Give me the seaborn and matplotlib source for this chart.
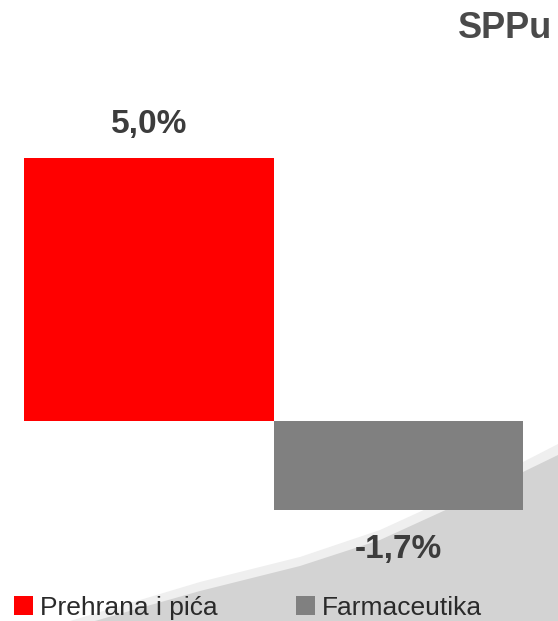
import matplotlib
matplotlib.use("Agg")
import matplotlib.pyplot as plt
import numpy as np
import pandas as pd
import seaborn as sns
from matplotlib.patches import Polygon, Patch

# Chart data
categories = ["Prehrana i pića", "Farmaceutika"]
values = [5.0, -1.7]
value_labels = ["5,0%", "-1,7%"]
colors = ["#ff0000", "#808080"]
title = "SPPu"

sns.set_style("white")
plt.rcParams["font.family"] = ["Liberation Sans", "DejaVu Sans"]

W, H = 558, 621
fig = plt.figure(figsize=(W / 100, H / 100), dpi=100)
fig.patch.set_facecolor("white")

# Decorative grey swoosh in the lower right corner (figure pixel coords)
def px(x, y):
    return (x / W, 1 - y / H)

band = [(70, 621), (130, 603), (200, 582), (300, 557), (380, 530), (450, 498), (523, 462), (558, 444), (558, 621)]
swoosh = [(95, 621), (133, 610), (200, 591), (300, 566), (380, 540), (450, 508), (523, 472), (558, 455), (558, 621)]
fig.patches.append(Polygon([px(*p) for p in band], closed=True, transform=fig.transFigure,
                           facecolor="#efefef", edgecolor="none", zorder=-2))
fig.patches.append(Polygon([px(*p) for p in swoosh], closed=True, transform=fig.transFigure,
                           facecolor="#d3d3d3", edgecolor="none", zorder=-1))

# Axes placed so bars span x=24..523 and zero line at y=421
ppu = 263 / 5.0
ymin, ymax = -2.5, 6.0
bottom_px = 421 + (-ymin) * ppu
ax = fig.add_axes([24 / W, (H - bottom_px) / H, 499 / W, (ymax - ymin) * ppu / H])
ax.patch.set_alpha(0)

df = pd.DataFrame({"category": categories, "value": values})
sns.barplot(data=df, x="category", y="value", hue="category", palette=colors,
            width=1.0, saturation=1, legend=False, linewidth=0, ax=ax)
ax.set_xlim(-0.5, 1.5)
ax.set_ylim(ymin, ymax)
ax.axis("off")

for i, (v, lab) in enumerate(zip(values, value_labels)):
    offset = 13 if v >= 0 else -17
    ax.annotate(lab, (i, v), xytext=(0, offset), textcoords="offset points",
                ha="center", va="bottom" if v >= 0 else "top",
                fontsize=24, fontweight="bold", color="#3c3c3c", annotation_clip=False)

fig.text(552 / W, 1 - 29 / H, title, ha="right", va="center",
         fontsize=26, fontweight="bold", color="#4a4a4a")

handles = [Patch(facecolor=c, edgecolor="none") for c in colors]
fig.legend(handles, categories, loc="center left", bbox_to_anchor=(14 / W, 1 - 608 / H),
           ncol=2, frameon=False, fontsize=19, handlelength=0.72, handleheight=0.72,
           handletextpad=0.25, columnspacing=3.0, borderpad=0, borderaxespad=0,
           labelcolor="#2a2a2a")

fig.savefig("out.png", dpi=100)
